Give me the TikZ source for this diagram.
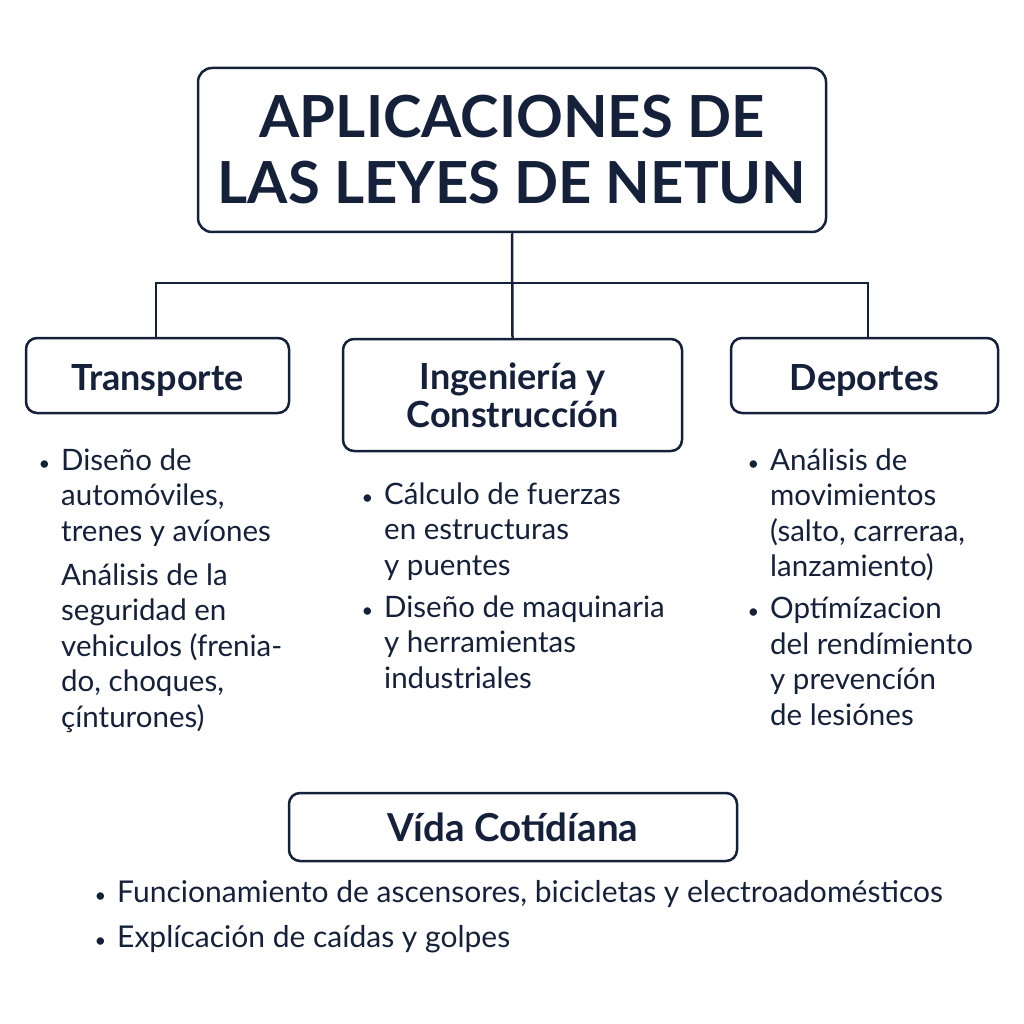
\documentclass[tikz,border=0pt]{standalone}
\usepackage{fontspec}
\setmainfont{Lato}
\definecolor{navy}{HTML}{15213B}
\newcommand{\bul}{\llap{{\fontsize{20}{20}\selectfont\textbullet}\hspace{11pt}}}
\newcommand{\lines}[1]{\begin{tabular}[t]{@{}l@{}}#1\end{tabular}}
\begin{document}
\begin{tikzpicture}[x=1pt,y=-1pt,
  box/.style={draw=navy,line width=2.5pt,rounded corners=11pt,fill=white,text=navy,align=center,inner sep=0pt},
  head/.style={font=\fontsize{36}{38}\selectfont\bfseries},
  item/.style={anchor=base west,inner sep=0pt,text=navy,font=\fontsize{29.5}{35.5}\selectfont},
  conn/.style={draw=navy,line width=2.5pt}]
\useasboundingbox (0,0) rectangle (1024,1024);
\node[box,minimum width=628pt,minimum height=164pt,rounded corners=14pt,font=\fontsize{58}{66}\selectfont\bfseries] (title) at (512,150) {APLICACIONES DE\\LAS LEYES DE NETUN};
\node[box,head,minimum width=263pt,minimum height=75pt,text height=30pt,text depth=0pt] (trans) at (157.5,375.5) {Transporte};
\node[box,head,minimum width=339pt,minimum height=112pt] (ing) at (512.5,395) {Ingeniería y\\Construccíón};
\node[box,head,minimum width=267pt,minimum height=75pt,text height=30pt,text depth=0pt] (dep) at (864.5,375.5) {Deportes};
\node[box,minimum width=448pt,minimum height=68pt,font=\fontsize{38.5}{40}\selectfont\bfseries] (vida) at (513,827) {Vída Cotídíana};
\coordinate (jl) at (156,283);
\coordinate (jr) at (868,283);
\draw[conn] (title.south) -- (ing.north);
\draw[conn] (jl |- trans.north) -- (jl) -- (jr) -- (jr |- dep.north);
\node[item] (t1) at (61,470) {\lines{\bul Diseño de\\automóviles,\\trenes y avíones\\[8.5pt]Análisis de la\\seguridad en\\vehiculos (frenia-\\do, choques,\\çínturones)}};
\node[item] (i1) at (384,504) {\lines{\bul Cálculo de fuerzas\\en estructuras\\y puentes\\[6.5pt]\bul Diseño de maquinaria\\y herramientas\\industriales}};
\node[item] (d1) at (770,470) {\lines{\bul Análisis de\\movimientos\\(salto, carreraa,\\lanzamiento)\\[6.5pt]\bul Optímízacion\\del rendímiento\\y prevencíón\\de lesiónes}};
\node[item,font=\fontsize{30}{35.5}\selectfont] (v1) at (117,902) {\lines{\bul Funcionamiento de ascensores, bicicletas y electroadomésticos\\[9.5pt]\bul Explícación de caídas y golpes}};
\end{tikzpicture}
\end{document}
